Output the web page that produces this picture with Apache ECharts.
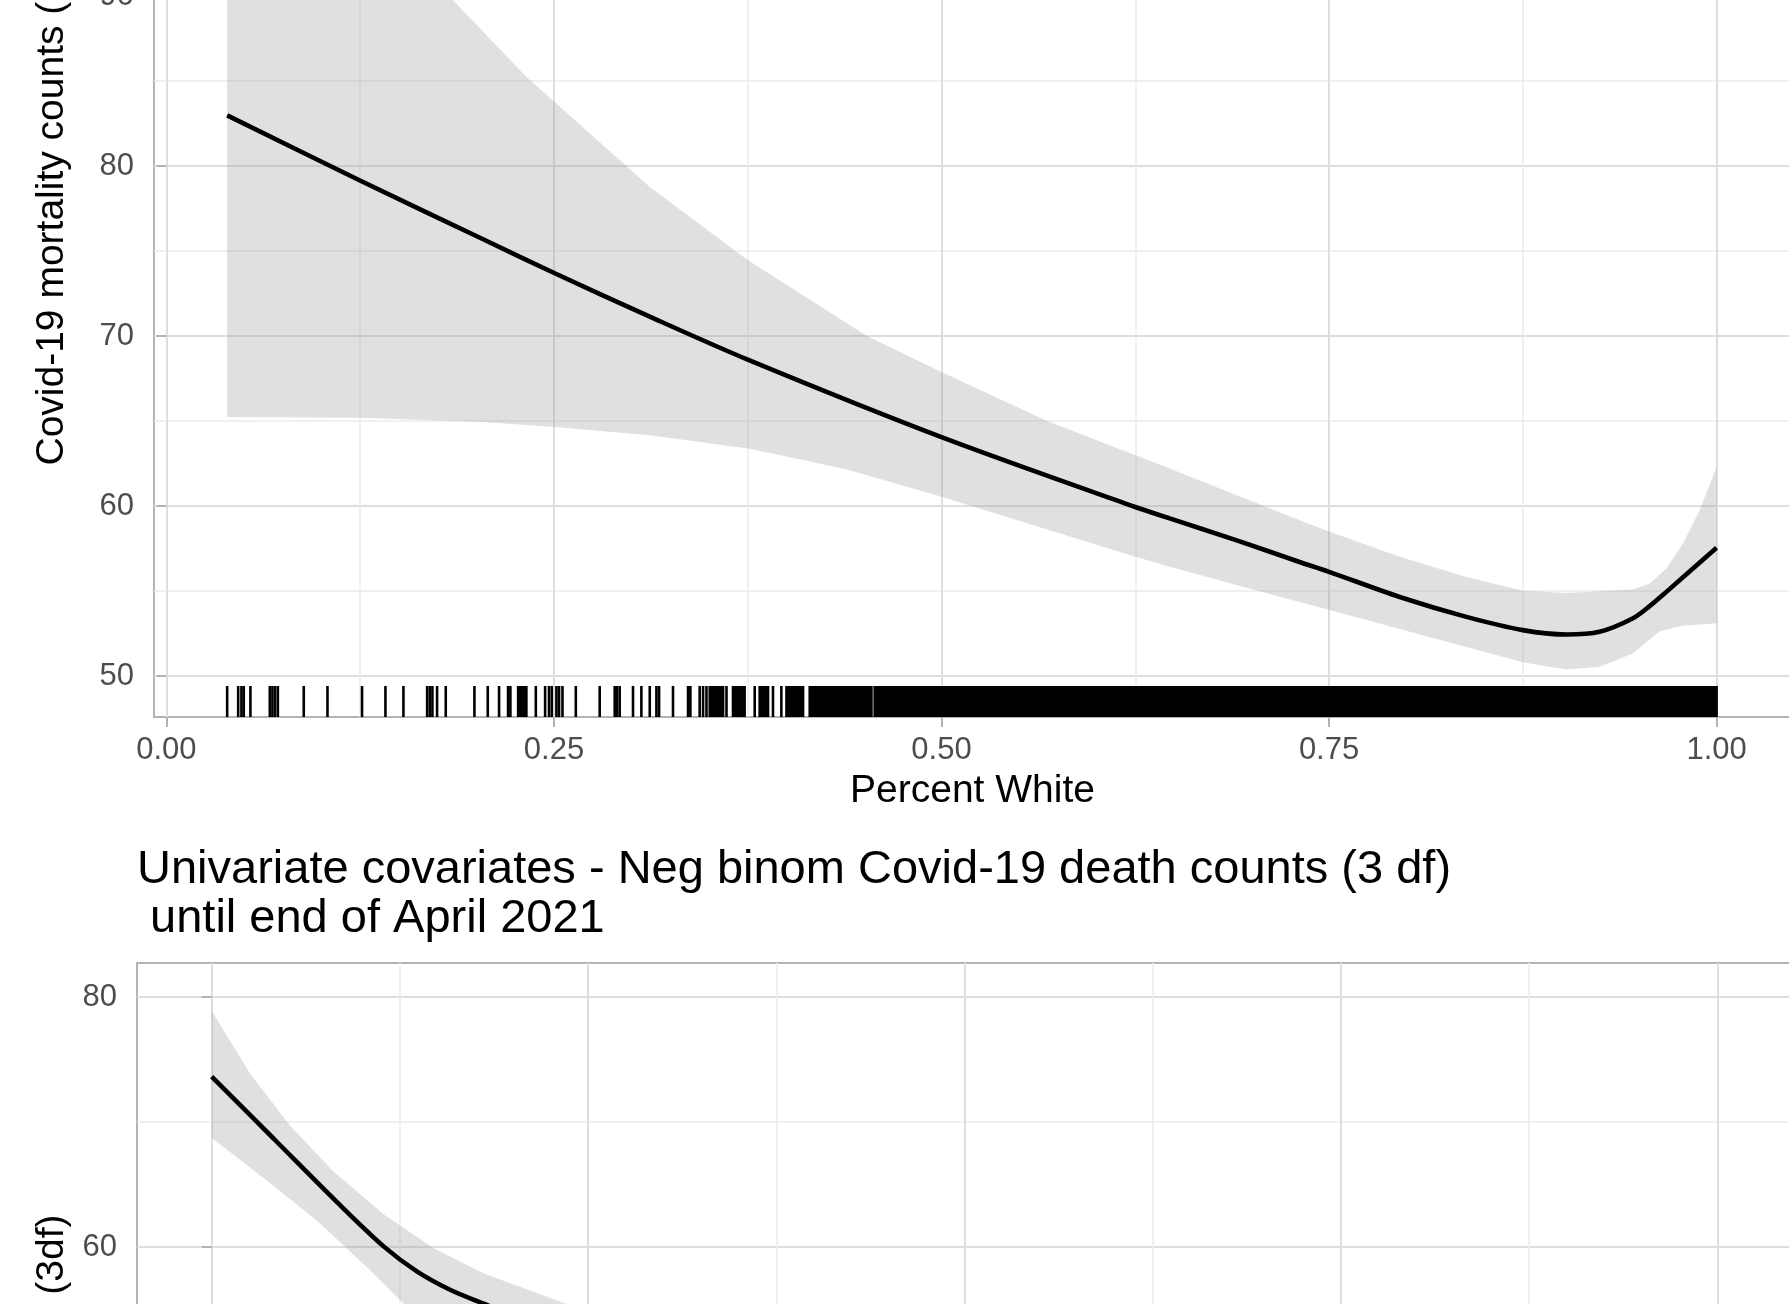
<!DOCTYPE html>
<html>
<head>
<meta charset="utf-8">
<script src="https://cdn.jsdelivr.net/npm/echarts@6/dist/echarts.min.js"></script>
<style>
html,body{margin:0;padding:0;background:#fff;}
#chart{width:1789px;height:1304px;}
</style>
</head>
<body>
<div id="chart"></div>
<script>
// ---------- Top panel: Percent White ----------
const topXTicks = [0, 0.25, 0.5, 0.75, 1];
const topXMinor = [0.125, 0.375, 0.625, 0.875];
const topYTicks = [50, 60, 70, 80, 90, 100];
const topYMinor = [55, 65, 75, 85, 95, 105];

const topCurve = [[0.0392,82.99],[0.1252,79.14],[0.2043,75.7],[0.2505,73.7],[0.3118,71.15],[0.375,68.62],
  [0.5,64.06],[0.625,59.95],[0.6472,59.28],[0.69,58.0],[0.731,56.72],[0.75,56.14],[0.7956,54.66],
  [0.8386,53.49],[0.875,52.71],[0.903,52.45],[0.9245,52.61],[0.9458,53.39],[0.9568,54.12],[0.9676,54.96],[1.0,57.55]];
const topUpper = [[0.0392,106.2],[0.08,101.0],[0.13,95.3],[0.1849,89.76],[0.2323,85.25],[0.2505,83.78],
  [0.3118,78.78],[0.3752,74.47],[0.4516,70.02],[0.5,67.9],[0.5677,65.02],[0.6472,62.22],
  [0.731,59.18],[0.7504,58.49],[0.7956,57.02],[0.8386,55.84],[0.8749,55.02],[0.903,54.9],
  [0.946,55.1],[0.9568,55.45],[0.9676,56.33],[0.9783,57.8],[0.989,59.76],[1.0,62.31]];
const topLower = [[0.0392,65.24],[0.1252,65.2],[0.2043,64.95],[0.2505,64.66],[0.3118,64.17],[0.3752,63.39],
  [0.4086,62.76],[0.4408,62.12],[0.47,61.35],[0.5,60.55],[0.5698,58.59],[0.6251,57.02],[0.6472,56.44],
  [0.6891,55.4],[0.731,54.36],[0.7504,53.89],[0.7956,52.78],[0.8386,51.72],[0.8749,50.82],[0.903,50.39],
  [0.9245,50.55],[0.946,51.34],[0.9547,52.0],[0.9633,52.64],[0.9783,52.97],[1.0,53.11]];

// rug: individual observations (sparse part) and solid runs of observations (dense part)
const rugTicks = [0.0392,0.0463,0.0484,0.0499,0.0542,0.0667,0.0684,0.0701,0.0719,0.0886,0.1039,0.1262,
  0.1413,0.1529,0.1682,0.1699,0.1716,0.1746,0.1802,0.1987,0.2073,0.2146,0.2204,0.2219,0.2269,0.2279,
  0.229,0.23,0.2311,0.2322,0.2383,0.2443,0.2468,0.2486,0.2516,0.2533,0.2555,0.2641,0.2795,0.2892,
  0.2907,0.2924,0.301,0.3064,0.3118,0.3161,0.3178,0.3268,0.3365,0.338,0.344,0.3462,0.3484,0.3613,
  0.3795,0.3913,0.3967];
const rugRuns = [[0.3505,0.3591],[0.3655,0.373],[0.3827,0.3881],[0.4,0.4107],[0.415,0.4322],
  [0.4333,0.4494],[0.4505,0.4548],[0.4569,0.4634],[0.4645,0.4687],[0.4698,0.4763],[0.4774,0.4945],
  [0.4956,0.6785],[0.6795,0.7123],[0.7133,1.0]];

// ---------- Bottom panel (cropped) ----------
const botXTicks = [0, 2, 4, 6, 8];
const botXMinor = [1, 3, 5, 7];
const botYTicks = [0, 20, 40, 60, 80];
const botYMinor = [10, 30, 50, 70];
const botCurve = [[0,73.63],[0.331,68.64],[0.667,63.57],[0.915,60.03],[1.092,58.03],[1.269,56.56],[1.446,55.46],[1.52,55.0]];
const botUpper = [[0,78.88],[0.207,73.81],[0.42,69.65],[0.65,66.01],[0.915,62.61],[1.181,59.89],[1.446,57.89],[1.871,55.52],[1.95,55.15]];
const botLower = [[0,68.74],[0.296,65.28],[0.561,62.08],[0.827,58.34],[1.021,55.46],[1.08,54.9]];

const titleText = 'Univariate covariates - Neg binom Covid-19 death counts (3 df)\n until end of April 2021';
const yName = 'Covid-19 mortality counts (3df)';
const xName = 'Percent White';

const FONT = 'Liberation Sans, Arial, Helvetica, sans-serif';
const MAJOR = {show: true, lineStyle: {color: '#DEDEDE', width: 2}};
const MINOR = {show: true, lineStyle: {color: '#EBEBEB', width: 1.5}};
const TICK = {show: true, inside: false, length: 10, lineStyle: {color: '#B3B3B3', width: 2}};
const LABEL = {color: '#4D4D4D', fontSize: 31, fontFamily: FONT};
const BAND = 'rgba(153,153,153,0.3)';

function bandItem(upper, lower) {
  return function (params, api) {
    const pts = upper.map(p => api.coord(p)).concat(lower.slice().reverse().map(p => api.coord(p)));
    return {type: 'polygon', shape: {points: pts}, style: {fill: BAND}};
  };
}

const chart = echarts.init(document.getElementById('chart'), null, {renderer: 'canvas'});
chart.setOption({
  animation: false,
  backgroundColor: '#fff',
  title: {
    text: titleText, left: 137, top: 846, padding: 0,
    textStyle: {fontSize: 47, lineHeight: 49, fontWeight: 'normal', color: '#000', fontFamily: FONT}
  },
  grid: [
    {left: 154, top: -317, width: 1637, height: 1034, show: true, borderColor: '#B3B3B3', borderWidth: 2,
      containLabel: false, outerBoundsMode: 'none'},
    {left: 137, top: 963, width: 1712, height: 1034, show: true, borderColor: '#B3B3B3', borderWidth: 2,
      containLabel: false, outerBoundsMode: 'none'}
  ],
  xAxis: [
    {type: 'value', gridIndex: 0, min: -0.008, max: 1.048,
      axisLine: {show: false}, axisTick: Object.assign({customValues: topXTicks}, TICK),
      axisLabel: Object.assign({customValues: topXTicks, margin: 18, formatter: v => v.toFixed(2)}, LABEL),
      splitLine: MAJOR,
      name: xName, nameLocation: 'middle', nameGap: 55,
      nameTextStyle: {fontSize: 39, color: '#000', fontFamily: FONT}},
    {type: 'value', gridIndex: 0, min: -0.008, max: 1.048, position: 'top',
      axisLine: {show: false}, axisTick: {show: false, customValues: topXMinor},
      axisLabel: {show: false, customValues: topXMinor}, splitLine: MINOR},
    {type: 'value', gridIndex: 1, min: -0.397, max: 8.7,
      axisLine: {show: false}, axisTick: Object.assign({customValues: botXTicks}, TICK),
      axisLabel: {show: false, customValues: botXTicks}, splitLine: MAJOR},
    {type: 'value', gridIndex: 1, min: -0.397, max: 8.7, position: 'top',
      axisLine: {show: false}, axisTick: {show: false, customValues: botXMinor},
      axisLabel: {show: false, customValues: botXMinor}, splitLine: MINOR}
  ],
  yAxis: [
    {type: 'value', gridIndex: 0, min: 47.6, max: 108.42,
      axisLine: {show: false}, axisTick: Object.assign({customValues: topYTicks}, TICK),
      axisLabel: Object.assign({customValues: topYTicks, margin: 20}, LABEL),
      splitLine: MAJOR,
      name: yName, nameLocation: 'middle', nameGap: 81,
      nameTextStyle: {fontSize: 39, color: '#000', fontFamily: FONT}},
    {type: 'value', gridIndex: 0, min: 47.6, max: 108.42, position: 'right',
      axisLine: {show: false}, axisTick: {show: false, customValues: topYMinor},
      axisLabel: {show: false, customValues: topYMinor}, splitLine: MINOR},
    {type: 'value', gridIndex: 1, min: 0, max: 82.72,
      axisLine: {show: false}, axisTick: Object.assign({customValues: botYTicks}, TICK),
      axisLabel: Object.assign({customValues: botYTicks, margin: 20}, LABEL),
      splitLine: MAJOR,
      name: yName, nameLocation: 'middle', nameGap: 64,
      nameTextStyle: {fontSize: 39, color: '#000', fontFamily: FONT}},
    {type: 'value', gridIndex: 1, min: 0, max: 82.72, position: 'right',
      axisLine: {show: false}, axisTick: {show: false, customValues: botYMinor},
      axisLabel: {show: false, customValues: botYMinor}, splitLine: MINOR}
  ],
  series: [
    {type: 'custom', xAxisIndex: 0, yAxisIndex: 0, clip: true, silent: true,
      data: [[0.5, 60]], renderItem: bandItem(topUpper, topLower), z: 2},
    {type: 'line', xAxisIndex: 0, yAxisIndex: 0, data: topCurve, showSymbol: false, smooth: 0.3,
      lineStyle: {color: '#000', width: 4.6}, z: 3, silent: true},
    {type: 'custom', xAxisIndex: 0, yAxisIndex: 0, silent: true, z: 4,
      data: rugTicks.map(v => [v, 47.6]),
      renderItem: function (params, api) {
        const cs = params.coordSys;
        const x = api.coord([api.value(0), api.value(1)])[0];
        const bottom = cs.y + cs.height, len = cs.height * 0.03;
        return {type: 'line', shape: {x1: x, y1: bottom - len, x2: x, y2: bottom},
          style: {stroke: '#000', lineWidth: 2.6}};
      }},
    {type: 'custom', xAxisIndex: 0, yAxisIndex: 0, silent: true, z: 4,
      data: rugRuns.map(r => [r[0], r[1], 47.6]),
      encode: {x: [0, 1], y: 2},
      renderItem: function (params, api) {
        const cs = params.coordSys;
        const x0 = api.coord([api.value(0), api.value(2)])[0] - 1.3;
        const x1 = api.coord([api.value(1), api.value(2)])[0] + 1.3;
        const bottom = cs.y + cs.height, len = cs.height * 0.03;
        return {type: 'rect', shape: {x: x0, y: bottom - len, width: x1 - x0, height: len},
          style: {fill: '#000'}};
      }},
    {type: 'custom', xAxisIndex: 2, yAxisIndex: 2, clip: true, silent: true,
      data: [[1, 60]], renderItem: bandItem(botUpper, botLower), z: 2},
    {type: 'line', xAxisIndex: 2, yAxisIndex: 2, data: botCurve, showSymbol: false, smooth: 0.3,
      lineStyle: {color: '#000', width: 4.6}, z: 3, silent: true}
  ]
});
</script>
</body>
</html>
